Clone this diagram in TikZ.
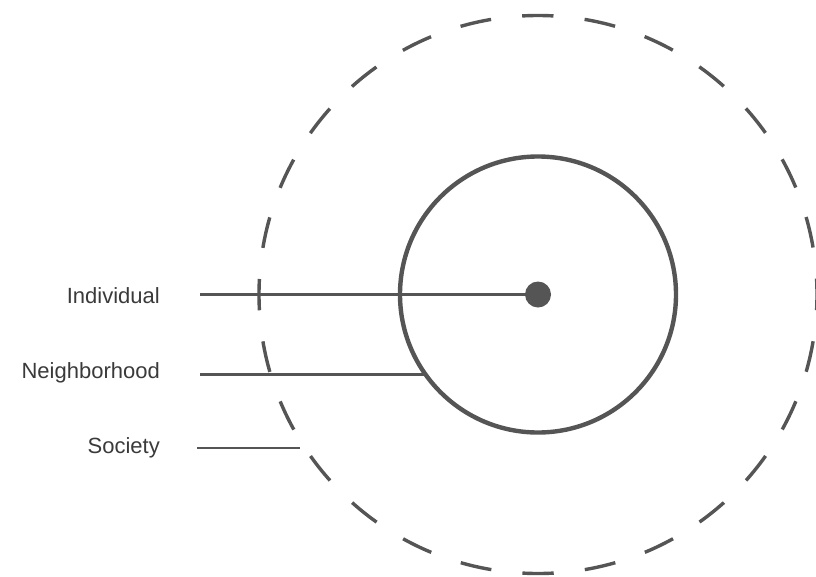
\documentclass[tikz,border=0pt]{standalone}
\usepackage{fontspec}
\setmainfont{Liberation Sans}
\usetikzlibrary{calc}
\begin{document}
\begin{tikzpicture}[x=1pt,y=-1pt,
  ln/.style={draw=linegray,line width=2.6pt},
  lbl/.style={anchor=base east,text=textgray,font=\fontsize{22}{24}\selectfont,inner sep=0pt}]
\definecolor{linegray}{HTML}{555555}
\definecolor{textgray}{HTML}{3A3A3A}
\useasboundingbox (0,0) rectangle (816,576);
\coordinate (c) at (538,294.5);
% outer dashed circle
\pgfmathsetmacro{\dl}{2*pi*279/56}
\draw[draw=linegray,line width=3.4pt,dash pattern=on \dl pt off \dl pt,dash phase=\dl/2*1pt] (c) circle[radius=279];
% inner circle
\draw[draw=linegray,line width=4.4pt] (c) circle[radius=138];
% center dot
\fill[linegray] (c) circle[radius=13];
% labels
\node[lbl] (ind) at (160,303.3) {Individual};
\node[lbl] (nei) at (160,378.3) {Neighborhood};
\node[lbl] (soc) at (160,453.3) {Society};
\coordinate (ia) at (200,294.5);
\coordinate (na) at (200,374.5);
\coordinate (nb) at ($(c)+(-112.8,80)$);
\coordinate (sa) at (197,448);
\coordinate (sb) at (300,448);
\draw[ln] (ia) -- (c);
\draw[ln] (na) -- (nb);
\draw[ln] (sa) -- (sb);
\end{tikzpicture}
\end{document}
